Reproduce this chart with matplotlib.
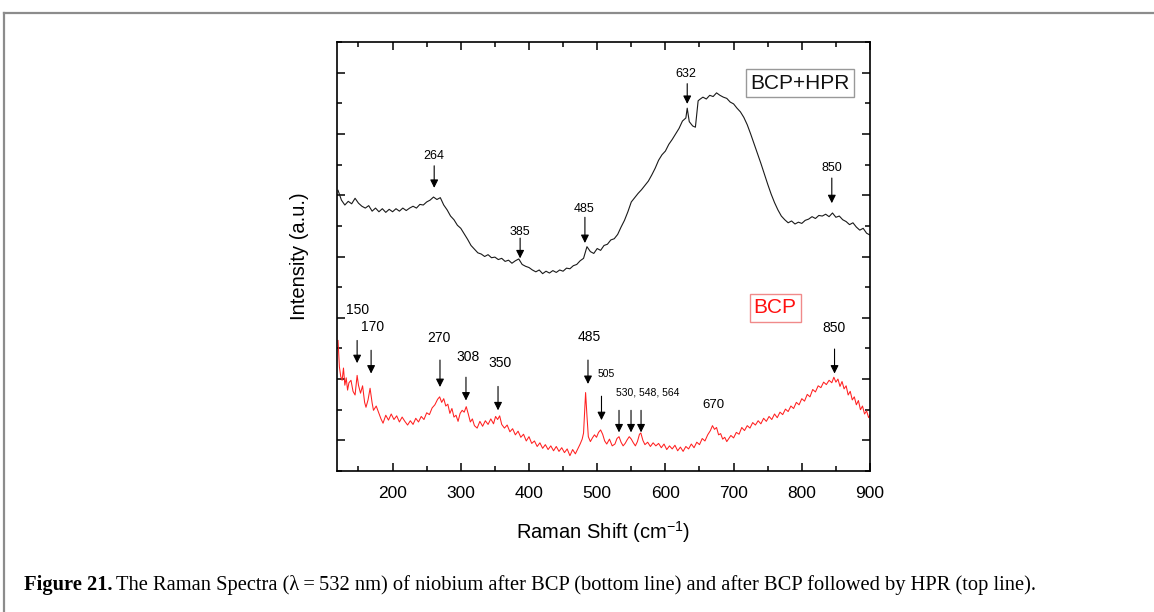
import numpy as np
import matplotlib
matplotlib.use('Agg')
import matplotlib.pyplot as plt
from matplotlib.ticker import MultipleLocator, NullFormatter
from matplotlib.lines import Line2D

plt.rcParams['font.family'] = ['Liberation Sans', 'DejaVu Sans']

# BCP+HPR spectrum (top line), Raman shift in cm-1 / intensity a.u.
x_hpr = [120, 125, 130, 135, 140, 145, 150, 155, 160, 165, 170, 175, 180, 185, 190, 195,
         200, 205, 210, 215, 220, 225, 230, 235, 240, 245, 250, 255, 260, 265, 270, 275,
         280, 285, 290, 295, 300, 305, 310, 315, 320, 325, 330, 335, 340, 345, 350, 355,
         360, 365, 370, 375, 380, 385, 390, 395, 400, 405, 410, 415, 420, 425, 430, 435,
         440, 445, 450, 455, 460, 465, 470, 475, 480, 485, 490, 495, 500, 505, 510, 515,
         520, 525, 530, 535, 540, 545, 550, 555, 560, 565, 570, 575, 580, 585, 590, 595,
         600, 605, 610, 615, 620, 625, 630, 632, 635, 640, 644, 648, 650, 655, 660, 665,
         670, 675, 680, 685, 690, 695, 700, 705, 710, 715, 720, 725, 730, 735, 740, 745,
         750, 755, 760, 765, 770, 775, 780, 785, 790, 795, 800, 805, 810, 815, 820, 825,
         830, 835, 840, 845, 850, 855, 860, 865, 870, 875, 880, 885, 890, 895, 900]
y_hpr = [40.8, 39.2, 38.4, 39.0, 38.6, 39.5, 38.7, 38.2, 37.9, 38.3, 37.4, 37.9, 37.3, 37.8, 37.2, 37.7,
         37.3, 37.8, 37.4, 37.9, 37.5, 37.9, 38.2, 37.9, 38.5, 38.4, 38.9, 39.2, 39.7, 39.3, 39.6, 38.4,
         37.6, 36.6, 36.0, 35.1, 34.6, 33.7, 32.8, 31.8, 31.2, 30.6, 30.4, 30.0, 30.3, 29.8, 29.9, 29.5,
         29.7, 29.2, 29.4, 28.9, 29.3, 29.6, 28.7, 28.4, 28.2, 27.8, 27.5, 27.8, 27.2, 27.6, 27.3, 27.7,
         27.4, 27.8, 27.6, 28.1, 28.0, 28.5, 28.7, 29.3, 29.7, 31.6, 30.8, 30.5, 31.3, 31.0, 31.8, 32.0,
         32.7, 32.9, 33.6, 34.8, 35.9, 37.3, 38.9, 39.6, 40.3, 40.9, 41.6, 42.3, 43.3, 44.4, 45.7, 46.6,
         47.2, 48.3, 49.1, 50.0, 50.9, 52.1, 52.6, 54.2, 52.0, 51.3, 51.1, 55.4, 55.6, 56.0, 55.7, 56.3,
         56.1, 56.7, 56.3, 56.0, 55.8, 55.2, 54.9, 54.2, 53.6, 52.7, 51.5, 50.0, 48.4, 46.8, 45.2, 43.5,
         41.8, 40.2, 38.8, 37.6, 36.6, 36.0, 35.5, 35.8, 35.3, 35.6, 35.4, 35.9, 36.1, 36.5, 36.2, 36.7,
         36.6, 36.9, 36.5, 37.1, 36.4, 36.6, 36.0, 35.7, 35.2, 35.5, 34.8, 34.3, 34.6, 33.8, 33.5]

# BCP spectrum (bottom line)
x_bcp = [120, 122, 124, 126, 128, 130, 132, 134, 136, 139, 142, 145, 148, 150, 153, 156,
         159, 161, 164, 167, 170, 172, 176, 180, 183, 186, 190, 194, 198, 202, 206, 210,
         214, 218, 222, 226, 230, 234, 238, 242, 246, 250, 254, 258, 262, 266, 269, 272,
         275, 278, 281, 284, 287, 290, 293, 296, 299, 302, 305, 308, 311, 314, 317, 320,
         324, 328, 332, 336, 340, 344, 348, 351, 354, 357, 360, 364, 368, 372, 376, 380,
         384, 388, 392, 396, 400, 404, 408, 412, 416, 420, 424, 428, 432, 436, 440, 444,
         448, 452, 456, 460, 464, 468, 472, 475, 478, 480, 482, 483, 485, 487, 490, 493,
         496, 499, 502, 505, 508, 511, 514, 518, 522, 526, 529, 532, 535, 538, 541, 544,
         547, 550, 553, 556, 559, 562, 564, 567, 570, 574, 578, 582, 586, 590, 594, 598,
         602, 606, 610, 614, 618, 622, 626, 630, 634, 638, 642, 646, 650, 654, 658, 662,
         666, 669, 672, 675, 678, 681, 684, 687, 690, 693, 696, 700, 704, 708, 712, 716,
         720, 724, 728, 732, 736, 740, 744, 748, 752, 756, 760, 764, 768, 772, 776, 780,
         784, 788, 792, 796, 800, 804, 808, 812, 816, 820, 824, 828, 832, 836, 840, 844,
         847, 850, 853, 856, 859, 862, 865, 868, 871, 874, 877, 880, 883, 886, 889, 892,
         895, 898, 900]
y_bcp = [16.3, 12.0, 10.4, 9.8, 11.8, 9.0, 10.2, 8.2, 9.4, 9.8, 8.0, 7.4, 10.6, 9.0, 7.7, 8.9,
         6.2, 5.4, 6.6, 8.5, 6.1, 4.9, 5.6, 4.4, 3.5, 2.8, 4.1, 3.3, 4.3, 3.4, 4.0, 3.0,
         3.8, 3.1, 2.5, 3.2, 2.6, 3.6, 3.0, 3.9, 3.4, 4.5, 4.2, 5.3, 5.8, 6.7, 7.1, 6.2,
         6.8, 5.6, 5.9, 4.4, 5.2, 3.8, 4.1, 3.1, 4.4, 4.9, 4.6, 5.5, 4.3, 3.0, 3.5, 2.4,
         2.0, 3.1, 2.3, 3.2, 2.6, 3.5, 2.7, 3.9, 3.4, 4.0, 2.6, 2.0, 2.5, 1.4, 1.9, 0.9,
         1.5, 0.5, 1.0, -0.1, 0.6, -0.5, -0.1, -1.0, -0.4, -1.3, -0.7, -1.5, -0.9, -1.7, -1.0, -1.8,
         -1.2, -2.0, -1.4, -2.5, -1.5, -2.2, -1.3, -0.6, 0.2, 1.2, 5.5, 7.8, 4.0, 0.6, -0.2, 0.4,
         0.9, 0.5, 1.3, 1.7, 1.0, -0.1, -0.6, 0.2, -0.9, -0.6, 0.3, 0.6, -0.3, -0.9, -0.5, 0.1,
         0.6, 0.2, -0.4, -0.9, -0.2, 1.0, 1.2, 0.0, -0.7, -0.3, -1.0, -0.4, -0.9, -0.5, -1.2, -0.6,
         -1.5, -0.9, -1.4, -0.8, -1.7, -1.1, -1.8, -1.0, -1.4, -0.6, -1.2, -0.3, -0.7, 0.3, -0.1, 0.9,
         1.6, 2.4, 1.8, 2.1, 0.9, 1.1, 0.2, 0.5, -0.2, 0.3, 0.8, 0.4, 1.3, 1.0, 2.1, 1.6,
         2.4, 2.0, 2.9, 2.5, 3.2, 2.7, 3.6, 3.1, 3.9, 3.4, 4.3, 3.7, 4.6, 4.2, 5.1, 4.7,
         5.6, 5.2, 6.2, 5.8, 6.8, 6.4, 7.5, 7.1, 8.3, 7.9, 8.9, 8.6, 9.5, 9.1, 9.8, 9.4,
         10.3, 9.5, 10.0, 8.8, 9.6, 8.4, 8.9, 7.4, 8.0, 6.6, 7.1, 5.8, 6.5, 5.0, 5.6, 4.3,
         4.8, 3.7, 4.2]

# peak labels: text, text x, text y, arrow x, arrow start y, arrow tip y
hpr_labels = ['632', '264', '385', '485', '850']
hpr_text_x = [630, 261, 387, 481, 844]
hpr_text_y = [59.8, 46.4, 34.0, 37.7, 44.4]
hpr_arrow_x = [632, 261, 387, 482, 844]
hpr_arrow_y0 = [58.2, 44.8, 33.0, 36.4, 42.8]
hpr_arrow_y1 = [54.9, 41.2, 29.7, 32.2, 38.7]

bcp_labels = ['150', '170', '270', '308', '350', '485', '850']
bcp_text_x = [148, 170, 268, 311, 357, 488, 847]
bcp_text_y = [21.2, 18.5, 16.7, 13.6, 12.6, 16.8, 18.3]
bcp_arrow_x = [148, 168.5, 269.5, 307.6, 354.6, 486.5, 848]
bcp_arrow_y0 = [16.3, 14.7, 13.1, 10.3, 8.8, 13.1, 14.9]
bcp_arrow_y1 = [12.6, 10.9, 8.7, 6.5, 4.9, 9.2, 10.9]

small_labels = ['505', '530, 548, 564']
small_text_x = [513, 574.5]
small_text_y = [10.9, 7.8]
small_arrow_x = [506.3, 532, 549.6, 564.3]
small_arrow_y0 = [7.2, 4.9, 4.9, 4.9]
small_arrow_y1 = [3.3, 1.3, 1.3, 1.3]

W, H = 1154, 612
fig = plt.figure(figsize=(W / 100, H / 100), dpi=100)
ax = fig.add_axes([337 / W, 1 - 471 / H, 533 / W, 429 / H])

ax.plot(x_hpr, y_hpr, color='#1a1a1a', lw=0.8)
ax.plot(x_bcp, y_bcp, color='#ff2020', lw=0.75)

arrow_kw = dict(arrowstyle='-|>', color='k', lw=0.8, mutation_scale=12, shrinkA=0, shrinkB=0)

for lab, tx, ty, axx, y0, y1 in zip(hpr_labels, hpr_text_x, hpr_text_y, hpr_arrow_x, hpr_arrow_y0, hpr_arrow_y1):
    ax.text(tx, ty, lab, ha='center', va='center', fontsize=9)
    ax.annotate('', xy=(axx, y1), xytext=(axx, y0), arrowprops=arrow_kw)

for lab, tx, ty, axx, y0, y1 in zip(bcp_labels, bcp_text_x, bcp_text_y, bcp_arrow_x, bcp_arrow_y0, bcp_arrow_y1):
    ax.text(tx, ty, lab, ha='center', va='center', fontsize=10)
    ax.annotate('', xy=(axx, y1), xytext=(axx, y0), arrowprops=arrow_kw)

for lab, tx, ty in zip(small_labels, small_text_x, small_text_y):
    ax.text(tx, ty, lab, ha='center', va='center', fontsize=7.5)
for axx, y0, y1 in zip(small_arrow_x, small_arrow_y0, small_arrow_y1):
    ax.annotate('', xy=(axx, y1), xytext=(axx, y0), arrowprops=arrow_kw)

ax.text(670, 5.7, '670', ha='center', va='center', fontsize=9.5)

# series name boxes
ax.text(797.5, 58.3, 'BCP+HPR', ha='center', va='center', fontsize=15, color='#111111',
        bbox=dict(boxstyle='square,pad=0.2', fc='white', ec='#999999', lw=1))
ax.text(761, 21.6, 'BCP', ha='center', va='center', fontsize=15, color='#ff1010',
        bbox=dict(boxstyle='square,pad=0.2', fc='white', ec='#f08a8a', lw=1))

ax.set_xlim(118.5, 900)
ax.set_ylim(-5, 65)
ax.xaxis.set_major_locator(MultipleLocator(100))
ax.xaxis.set_minor_locator(MultipleLocator(50))
ax.yaxis.set_major_locator(MultipleLocator(10))
ax.yaxis.set_minor_locator(MultipleLocator(5))
ax.yaxis.set_major_formatter(NullFormatter())
ax.tick_params(which='both', direction='in', top=True, right=True, width=1.1)
ax.tick_params(which='major', length=6, labelsize=12.5, pad=11)
ax.tick_params(which='minor', length=3.5)
for sp in ax.spines.values():
    sp.set_linewidth(1.2)

ax.set_xlabel('Raman Shift (cm$^{\\mathregular{-1}}$)', fontsize=14.5, labelpad=13)
ax.set_ylabel('Intensity (a.u.)', fontsize=14.5, labelpad=9)

# page frame
fig.add_artist(Line2D([4 / W, 1.0], [1 - 13 / H, 1 - 13 / H], transform=fig.transFigure,
                      color='#8c8c8c', lw=1.6))
fig.add_artist(Line2D([4 / W, 4 / W], [0.0, 1 - 13 / H], transform=fig.transFigure,
                      color='#8c8c8c', lw=1.6))

# caption
cap_y = 1 - 585 / H
t1 = fig.text(24 / W, cap_y, 'Figure 21.', fontsize=14.8, fontweight='bold',
              family='Liberation Serif', va='center', ha='left')
fig.canvas.draw()
bb = t1.get_window_extent(fig.canvas.get_renderer())
fig.text(bb.x1 / W + 4 / W, cap_y,
         'The Raman Spectra (\u03bb\u2009=\u2009532 nm) of niobium after BCP (bottom line) and after BCP '
         'followed by HPR (top line).',
         fontsize=14.8, family=['Liberation Serif', 'DejaVu Serif'], va='center', ha='left')

fig.savefig('out.png', dpi=100)
